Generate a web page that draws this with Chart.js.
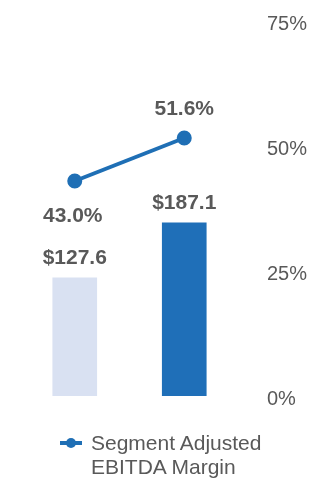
<!DOCTYPE html>
<html>
<head>
<meta charset="utf-8">
<script src="https://cdn.jsdelivr.net/npm/chart.js@4/dist/chart.umd.min.js"></script>
<style>
  body { margin: 0; background: #fff; }
  #wrap { position: relative; width: 330px; height: 500px; }
  #legend {
    position: absolute; left: 60px; top: 431px;
    font: 21px "Liberation Sans", Arial, sans-serif; color: #595959;
    line-height: 24px; display: flex; align-items: flex-start;
  }
  #legend .mark { position: relative; width: 22px; height: 24px; margin-right: 9px; }
  #legend .mark::before { content: ''; position: absolute; left: 0; right: 0; top: 10px; height: 4px; background: #1f6fb5; }
  #legend .mark::after { content: ''; position: absolute; left: 6px; top: 7px; width: 10px; height: 10px; border-radius: 50%; background: #1f6fb5; }
</style>
</head>
<body>
<div id="wrap">
  <canvas id="combo" width="330" height="500"></canvas>
  <div id="legend"></div>
</div>
<script>
// DATA
const periods = ['Prior Year', 'Current Year'];
const ebitda = [127.6, 187.1];
const margin = [43.0, 51.6];
const marginTicks = [0, 25, 50, 75];
const marginLabel = 'Segment Adjusted EBITDA Margin';

const blue = '#1f6fb5';
const grey = '#595959';

// value labels above bars / around points
const valueLabels = {
  id: 'valueLabels',
  afterDatasetsDraw(chart) {
    const ctx = chart.ctx;
    ctx.save();
    ctx.font = 'bold 21px "Liberation Sans", Arial, sans-serif';
    ctx.fillStyle = grey;
    ctx.textAlign = 'center';
    ctx.textBaseline = 'middle';
    chart.getDatasetMeta(1).data.forEach((bar, i) => {
      ctx.fillText('$' + ebitda[i].toFixed(1), bar.x, bar.y - 20);
    });
    chart.getDatasetMeta(0).data.forEach((pt, i) => {
      const dy = i === 0 ? 35 : -29;
      ctx.fillText(margin[i].toFixed(1) + '%', pt.x - (i === 0 ? 2 : 0), pt.y + dy);
    });
    ctx.restore();
  }
};

const combo = document.getElementById('combo');
new Chart(combo, {
  data: {
    labels: periods,
    datasets: [
      {
        type: 'line',
        label: marginLabel,
        data: margin,
        yAxisID: 'y1',
        borderColor: blue,
        backgroundColor: blue,
        borderWidth: 4,
        pointRadius: 5.5,
        pointHoverRadius: 5.5,
        order: 0
      },
      {
        type: 'bar',
        label: 'Segment Adjusted EBITDA',
        data: ebitda,
        yAxisID: 'y',
        backgroundColor: ['#d9e1f2', '#1f6fb8'],
        barThickness: 44,
        order: 1
      }
    ]
  },
  options: {
    responsive: false,
    animation: false,
    layout: { padding: { left: 20, right: 20, top: 21, bottom: 104 } },
    plugins: { legend: { display: false }, tooltip: { enabled: false } },
    scales: {
      x: { display: false, offset: true },
      y: { display: false, min: 0, max: 405 },
      y1: {
        position: 'right',
        min: 0,
        max: 75,
        border: { display: false },
        grid: { display: false, drawTicks: false },
        afterBuildTicks: (axis) => { axis.ticks = marginTicks.map(v => ({ value: v })); },
        afterFit: (axis) => {
          axis.width = 71;
          axis.paddingTop = 0;
          axis.paddingBottom = 0;
        },
        ticks: {
          padding: 28,
          labelOffset: 3,
          color: grey,
          font: { family: '"Liberation Sans", Arial, sans-serif', size: 20 },
          callback: (v) => v + '%'
        }
      }
    }
  },
  plugins: [valueLabels]
});

document.getElementById('legend').innerHTML =
  '<span class="mark"></span><span>Segment Adjusted<br>EBITDA Margin</span>';
</script>
</body>
</html>
